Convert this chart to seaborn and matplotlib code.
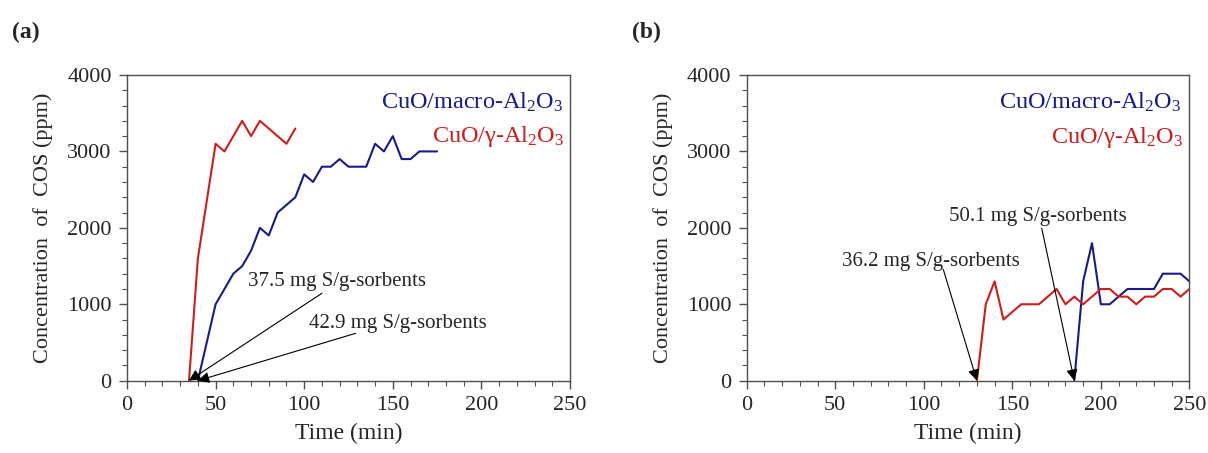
import matplotlib
matplotlib.use("Agg")
import matplotlib.pyplot as plt
from matplotlib.ticker import MultipleLocator
import pandas as pd
import seaborn as sns

# ---------------- data ----------------
# Panel (a)
a_macro_time = [40, 50, 60, 65, 70, 75, 80, 85, 90, 95, 100, 105, 110, 115, 120,
                125, 130, 135, 140, 145, 150, 155, 160, 165, 170, 175]
a_macro_cos = [0, 1000, 1400, 1500, 1700, 2000, 1900, 2200, 2300, 2400, 2700, 2600,
               2800, 2800, 2900, 2800, 2800, 2800, 3100, 3000, 3200, 2900, 2900,
               3000, 3000, 3000]
a_gamma_time = [35, 40, 45, 50, 55, 65, 70, 75, 90, 95]
a_gamma_cos = [0, 1600, 2350, 3100, 3000, 3400, 3200, 3400, 3100, 3300]

# Panel (b)
b_macro_time = [185, 190, 195, 200, 205, 215, 230, 235, 245, 250]
b_macro_cos = [0, 1300, 1800, 1000, 1000, 1200, 1200, 1400, 1400, 1300]
b_gamma_time = [130, 135, 140, 145, 155, 165, 175, 180, 185, 190, 200, 205, 210,
                215, 220, 225, 230, 235, 240, 245, 250]
b_gamma_cos = [0, 1000, 1300, 800, 1000, 1000, 1200, 1000, 1100, 1000, 1200, 1200,
               1100, 1100, 1000, 1100, 1100, 1200, 1200, 1100, 1200]

series_names = ["CuO/macro-Al$_2$O$_3$", "CuO/\u03b3-Al$_2$O$_3$"]
a_notes = ["37.5 mg S/g-sorbents", "42.9 mg S/g-sorbents"]
b_notes = ["50.1 mg S/g-sorbents", "36.2 mg S/g-sorbents"]
x_ticks = [0, 50, 100, 150, 200, 250]
y_ticks = [0, 1000, 2000, 3000, 4000]

# ---------------- style ----------------
sns.set_style("ticks")
plt.rcParams["font.family"] = ["Liberation Serif", "DejaVu Serif"]
plt.rcParams["mathtext.fontset"] = "custom"
plt.rcParams["mathtext.rm"] = "Liberation Serif"
plt.rcParams["mathtext.it"] = "Liberation Serif:italic"
plt.rcParams["mathtext.bf"] = "Liberation Serif:bold"

BLUE = "#1a1a8f"
RED = "#d01c1c"
SPINE = "#505050"

fig = plt.figure(figsize=(12.08, 4.53), dpi=100)
ax_a = fig.add_axes([127 / 1208, 1 - 380.7 / 453, 443 / 1208, 305.7 / 453])
ax_b = fig.add_axes([746.7 / 1208, 1 - 380.7 / 453, 442.7 / 1208, 305.7 / 453])


def make_df(t, c, name):
    return pd.DataFrame({"Time": t, "COS": c, "Sorbent": name})


def style_axes(ax):
    ax.set_xlim(0, 250)
    ax.set_ylim(0, 4000)
    ax.set_xticks(x_ticks)
    ax.set_yticks(y_ticks)
    ax.xaxis.set_minor_locator(MultipleLocator(10))
    ax.yaxis.set_minor_locator(MultipleLocator(200))
    ax.tick_params(axis="both", which="major", direction="out", length=6,
                   width=1, color=SPINE, labelsize=16, pad=5, top=False, right=False)
    ax.tick_params(axis="both", which="minor", direction="out", length=3.5,
                   width=0.8, color=SPINE, top=False, right=False)
    for s in ax.spines.values():
        s.set_visible(True)
        s.set_color(SPINE)
        s.set_linewidth(1.0)
    ax.set_xlabel("Time (min)", fontsize=17, labelpad=6)
    ax.set_ylabel("Concentration  of  COS (ppm)", fontsize=16, labelpad=10)


def arrow(ax, tip, start):
    ax.annotate("", xy=tip, xytext=start,
                arrowprops=dict(arrowstyle="-|>", color="black", lw=0.8,
                                mutation_scale=17, shrinkA=0, shrinkB=0),
                annotation_clip=False)


# Panel (a)
df_a = pd.concat([make_df(a_macro_time, a_macro_cos, series_names[0]),
                  make_df(a_gamma_time, a_gamma_cos, series_names[1])])
sns.lineplot(data=df_a, x="Time", y="COS", hue="Sorbent",
             palette={series_names[0]: BLUE, series_names[1]: RED},
             lw=1.5, ax=ax_a, legend=False)
style_axes(ax_a)
ax_a.text(246, 3565, series_names[0], color=BLUE, ha="right", va="baseline", fontsize=17.5)
ax_a.text(247, 3128, series_names[1], color=RED, ha="right", va="baseline", fontsize=17.5)
ax_a.text(68.5, 1240, a_notes[0], ha="left", va="baseline", fontsize=15)
ax_a.text(102.7, 686, a_notes[1], ha="left", va="baseline", fontsize=15)
arrow(ax_a, (35, 0), (110, 1144))
arrow(ax_a, (40, 0), (129, 620))

# Panel (b)
df_b = pd.concat([make_df(b_macro_time, b_macro_cos, series_names[0]),
                  make_df(b_gamma_time, b_gamma_cos, series_names[1])])
sns.lineplot(data=df_b, x="Time", y="COS", hue="Sorbent",
             palette={series_names[0]: BLUE, series_names[1]: RED},
             lw=1.5, ax=ax_b, legend=False)
style_axes(ax_b)
ax_b.text(245.6, 3565, series_names[0], color=BLUE, ha="right", va="baseline", fontsize=17.5)
ax_b.text(246.5, 3107, series_names[1], color=RED, ha="right", va="baseline", fontsize=17.5)
ax_b.text(114.4, 2094, b_notes[0], ha="left", va="baseline", fontsize=15)
ax_b.text(53.6, 1501, b_notes[1], ha="left", va="baseline", fontsize=15)
arrow(ax_b, (185, 0), (166.6, 1995))
arrow(ax_b, (130, 0), (111, 1458))

fig.text(12 / 1208, 1 - 32 / 453, "(a)", fontsize=17, fontweight="bold", va="center", ha="left")
fig.text(632 / 1208, 1 - 32 / 453, "(b)", fontsize=17, fontweight="bold", va="center", ha="left")

fig.savefig("out.png", dpi=100)
